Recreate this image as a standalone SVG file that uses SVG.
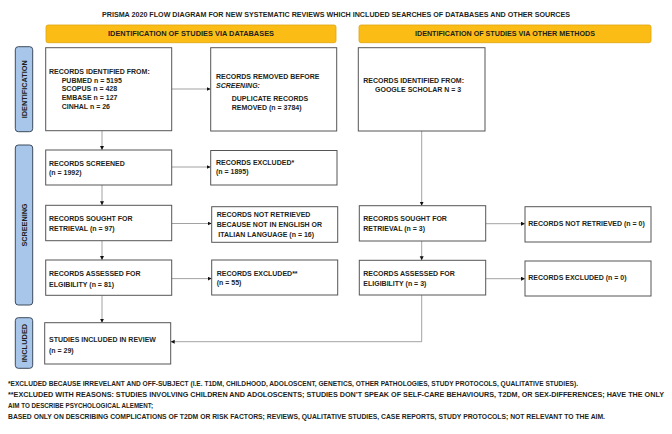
<svg xmlns="http://www.w3.org/2000/svg" width="672" height="434" viewBox="0 0 672 434">
<style>
.t{font-family:"Liberation Sans",Arial,sans-serif;font-weight:bold;font-size:7px;fill:#231f20}
.box{fill:#fff;stroke:#555;stroke-width:1}
.hdr{fill:#fbbd15;stroke:#e0a510;stroke-width:0.8}
.tab{fill:#a7c6ea;stroke:#3d4a5c;stroke-width:1}
.ln{fill:none;stroke:#8a8a8a;stroke-width:0.8}
.fn{font-family:"Liberation Sans",Arial,sans-serif;font-weight:bold;font-size:7px;fill:#231f20}
</style>
<defs>
<marker id="ah" markerUnits="userSpaceOnUse" markerWidth="5" markerHeight="5" refX="4" refY="2" orient="auto">
<path d="M0,0 L4,2 L0,4 Z" fill="#111"/>
</marker>
</defs>
<rect width="672" height="434" fill="#fff"/>
<text class="t" x="336" y="16.7" text-anchor="middle" font-size="6.5" textLength="468" lengthAdjust="spacingAndGlyphs">PRISMA 2020 FLOW DIAGRAM FOR NEW SYSTEMATIC REVIEWS WHICH INCLUDED SEARCHES OF DATABASES AND OTHER SOURCES</text>
<g id="header-databases">
<rect class="hdr" x="46" y="25" width="290" height="17.7" rx="2"/>
<text class="t" x="191" y="35.5" text-anchor="middle" textLength="166" lengthAdjust="spacingAndGlyphs">IDENTIFICATION OF STUDIES VIA DATABASES</text>
</g>
<g id="header-other">
<rect class="hdr" x="359" y="25" width="292" height="17.7" rx="2"/>
<text class="t" x="505" y="35.5" text-anchor="middle" textLength="180" lengthAdjust="spacingAndGlyphs">IDENTIFICATION OF STUDIES VIA OTHER METHODS</text>
</g>
<g id="tab-identification">
<rect class="tab" x="15.3" y="46.7" width="17.4" height="85" rx="3"/>
<text class="t" transform="translate(26.5,89.2) rotate(-90)" text-anchor="middle" font-size="6.5" textLength="58" lengthAdjust="spacingAndGlyphs">IDENTIFICATION</text>
</g>
<g id="tab-screening">
<rect class="tab" x="15.3" y="145" width="17.4" height="160" rx="3"/>
<text class="t" transform="translate(26.5,225) rotate(-90)" text-anchor="middle" font-size="6.5" textLength="43" lengthAdjust="spacingAndGlyphs">SCREENING</text>
</g>
<g id="tab-included">
<rect class="tab" x="15.3" y="317.7" width="17.4" height="50.6" rx="3"/>
<text class="t" transform="translate(26.5,343) rotate(-90)" text-anchor="middle" font-size="6.5" textLength="38.5" lengthAdjust="spacingAndGlyphs">INCLUDED</text>
</g>
<g id="connectors">
<line class="ln" x1="171.7" y1="89" x2="210.7" y2="89" marker-end="url(#ah)"/>
<line class="ln" x1="102" y1="131" x2="102" y2="150" marker-end="url(#ah)"/>
<line class="ln" x1="171.7" y1="167" x2="210.7" y2="167" marker-end="url(#ah)"/>
<line class="ln" x1="102" y1="185" x2="102" y2="205.3" marker-end="url(#ah)"/>
<line class="ln" x1="171.7" y1="223.5" x2="211.7" y2="223.5" marker-end="url(#ah)"/>
<line class="ln" x1="102" y1="240.7" x2="102" y2="260" marker-end="url(#ah)"/>
<line class="ln" x1="171.7" y1="278.6" x2="211.7" y2="278.6" marker-end="url(#ah)"/>
<line class="ln" x1="102" y1="295.3" x2="102" y2="322.7" marker-end="url(#ah)"/>
<line class="ln" x1="421.7" y1="131" x2="421.7" y2="205.7" marker-end="url(#ah)"/>
<line class="ln" x1="485.7" y1="223.7" x2="525" y2="223.7" marker-end="url(#ah)"/>
<line class="ln" x1="421.7" y1="241" x2="421.7" y2="260.3" marker-end="url(#ah)"/>
<line class="ln" x1="485.7" y1="278.7" x2="525" y2="278.7" marker-end="url(#ah)"/>
<polyline class="ln" points="421.7,295 421.7,341.7 170.7,341.7" marker-end="url(#ah)"/>
</g>
<g id="records-identified">
<rect class="box" x="45.7" y="47.7" width="126" height="83"/>
<text class="t" x="49" y="74">RECORDS IDENTIFIED FROM:</text>
<text class="t" x="61.7" y="82.7">PUBMED n = 5195</text>
<text class="t" x="61.7" y="91.3">SCOPUS n = 428</text>
<text class="t" x="61.7" y="100">EMBASE n = 127</text>
<text class="t" x="61.7" y="108.7">CINHAL n = 26</text>
</g>
<g id="records-removed">
<rect class="box" x="210.7" y="47.7" width="126" height="83.3"/>
<text class="t" x="216" y="78.7">RECORDS REMOVED BEFORE</text>
<text class="t" x="216" y="88" font-style="italic">SCREENING:</text>
<text class="t" x="231.7" y="100.7">DUPLICATE RECORDS</text>
<text class="t" x="231.7" y="110">REMOVED (n = 3784)</text>
</g>
<g id="records-identified-other">
<rect class="box" x="358.3" y="47.7" width="126.7" height="83.3"/>
<text class="t" x="363.3" y="83.3">RECORDS IDENTIFIED FROM:</text>
<text class="t" x="375" y="91.7">GOOGLE SCHOLAR N = 3</text>
</g>
<g id="records-screened">
<rect class="box" x="45.7" y="150" width="126" height="35"/>
<text class="t" x="49" y="166">RECORDS SCREENED</text>
<text class="t" x="49" y="175.3">(n = 1992)</text>
</g>
<g id="records-excluded">
<rect class="box" x="210.7" y="150.5" width="126.3" height="34.5"/>
<text class="t" x="216" y="165">RECORDS EXCLUDED*</text>
<text class="t" x="216" y="174.3">(n = 1895)</text>
</g>
<g id="sought-db">
<rect class="box" x="45.7" y="205.3" width="126" height="35.4"/>
<text class="t" x="49" y="220.7">RECORDS SOUGHT FOR</text>
<text class="t" x="49" y="230.7">RETRIEVAL (n = 97)</text>
</g>
<g id="not-retrieved-db">
<rect class="box" x="211.7" y="206.7" width="126" height="35.6"/>
<text class="t" x="216.7" y="217.3">RECORDS NOT RETRIEVED</text>
<text class="t" x="216.7" y="226.7">BECAUSE NOT IN ENGLISH OR</text>
<text class="t" x="218.3" y="236.7">ITALIAN LANGUAGE (n = 16)</text>
</g>
<g id="assessed-db">
<rect class="box" x="45.7" y="260" width="126" height="35.3"/>
<text class="t" x="49" y="276">RECORDS ASSESSED FOR</text>
<text class="t" x="49" y="286.7">ELGIBILITY (n = 81)</text>
</g>
<g id="excluded-db">
<rect class="box" x="211.7" y="260" width="126" height="35"/>
<text class="t" x="216.7" y="275.7">RECORDS EXCLUDED**</text>
<text class="t" x="216.7" y="285">(n = 55)</text>
</g>
<g id="sought-other">
<rect class="box" x="359.3" y="205.7" width="126.4" height="35.3"/>
<text class="t" x="363.3" y="220.7">RECORDS SOUGHT FOR</text>
<text class="t" x="363.3" y="230.7">RETRIEVAL (n = 3)</text>
</g>
<g id="not-retrieved-other">
<rect class="box" x="525" y="206.7" width="126" height="35.3"/>
<text class="t" x="528.3" y="225.7">RECORDS NOT RETRIEVED (n = 0)</text>
</g>
<g id="assessed-other">
<rect class="box" x="359.3" y="260.3" width="126.4" height="34.7"/>
<text class="t" x="363.3" y="276">RECORDS ASSESSED FOR</text>
<text class="t" x="363.3" y="286">ELIGIBILITY (n = 3)</text>
</g>
<g id="excluded-other">
<rect class="box" x="525" y="261" width="126" height="35"/>
<text class="t" x="528.3" y="280">RECORDS EXCLUDED (n = 0)</text>
</g>
<g id="included">
<rect class="box" x="44.7" y="322.7" width="126" height="41.3"/>
<text class="t" x="49" y="342.3">STUDIES INCLUDED IN REVIEW</text>
<text class="t" x="49" y="352.7">(n = 29)</text>
</g>
<g id="footnotes">
<text class="fn" x="8" y="386" textLength="570" lengthAdjust="spacingAndGlyphs">*EXCLUDED BECAUSE IRREVELANT AND OFF-SUBJECT (I.E. T1DM, CHILDHOOD, ADOLOSCENT, GENETICS, OTHER PATHOLOGIES, STUDY PROTOCOLS, QUALITATIVE STUDIES).</text>
<text class="fn" x="8" y="397" textLength="656" lengthAdjust="spacingAndGlyphs">**EXCLUDED WITH REASONS: STUDIES INVOLVING CHILDREN AND ADOLOSCENTS; STUDIES DON’T SPEAK OF SELF-CARE BEHAVIOURS, T2DM, OR SEX-DIFFERENCES; HAVE THE ONLY</text>
<text class="fn" x="8" y="408" textLength="145" lengthAdjust="spacingAndGlyphs">AIM TO DESCRIBE PSYCHOLOGICAL ALEMENT;</text>
<text class="fn" x="8" y="419" textLength="597" lengthAdjust="spacingAndGlyphs">BASED ONLY ON DESCRIBING COMPLICATIONS OF T2DM OR RISK FACTORS; REVIEWS, QUALITATIVE STUDIES, CASE REPORTS, STUDY PROTOCOLS; NOT RELEVANT TO THE AIM.</text>
</g>
</svg>
